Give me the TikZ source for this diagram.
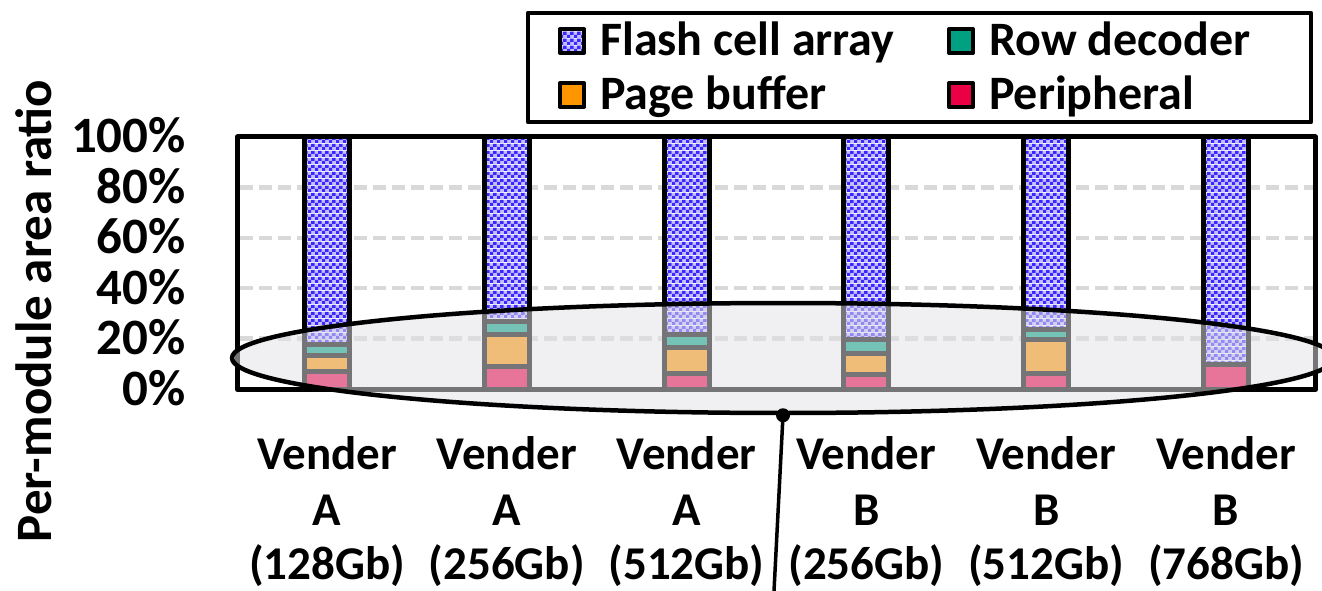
\documentclass[tikz,border=0pt]{standalone}
\usepackage{fontspec}
\setmainfont{Carlito}
\usetikzlibrary{patterns.meta,shapes.geometric}
\definecolor{cblue}{RGB}{60,40,255}
\definecolor{cbluelt}{RGB}{195,190,255}
\definecolor{cteal}{RGB}{0,160,130}
\definecolor{corange}{RGB}{255,150,0}
\definecolor{cpink}{RGB}{235,0,70}
\definecolor{cgrid}{RGB}{217,217,217}
\definecolor{cell}{RGB}{226,226,230}
\tikzdeclarepattern{name=chk, type=colored,
  bounding box={(0pt,0pt) and (7pt,7pt)}, tile size={(7pt,7pt)},
  code={\fill[cbluelt] (0pt,0pt) rectangle (7pt,7pt);
        \fill[cblue] (0pt,0pt) rectangle (3.5pt,3.5pt);
        \fill[cblue] (3.5pt,3.5pt) rectangle (7pt,7pt);}}
\tikzset{
  seg/.style={draw=black, line width=5pt},
  flash/.style={pattern=chk},
  grid/.style={cgrid, line width=4.5pt, dash pattern=on 13pt off 6pt},
  lab/.style={font=\fontsize{48}{58}\selectfont\bfseries, inner sep=0pt},
  tick/.style={font=\fontsize{51}{60}\selectfont\bfseries, inner sep=0pt, anchor=base east},
  cat/.style={font=\fontsize{47}{57}\selectfont\bfseries, inner sep=0pt, anchor=base},
  legsq/.style={draw=black, line width=4pt, minimum size=24pt, inner sep=0pt},
}
\newcommand{\mybar}[4]{%
  \draw[seg,fill=cpink] (#1-22.5,389) rectangle (#1+22.5,#2);
  \draw[seg,fill=corange] (#1-22.5,#2) rectangle (#1+22.5,#3);
  \draw[seg,fill=cteal] (#1-22.5,#3) rectangle (#1+22.5,#4);
  \draw[seg,flash] (#1-22.5,#4) rectangle (#1+22.5,137);}
\begin{document}
\begin{tikzpicture}[x=1pt,y=-1pt,line join=round]
\useasboundingbox (0,0) rectangle (1322,591);
% gridlines
\foreach \yy in {187.4,237.8,288.2,338.6}{\draw[grid] (240,\yy) -- (1314,\yy);}
% bars
\mybar{327}{371.6}{355.7}{344.6}
\mybar{506.8}{366.3}{334.3}{321.7}
\mybar{686.6}{373.9}{347.7}{334.3}
\mybar{866.4}{374.1}{353.0}{339.6}
\mybar{1046.2}{373.9}{339.6}{329.5}
\draw[seg,fill=cpink] (1226-22.5,389) rectangle (1226+22.5,364.3);
\draw[seg,flash] (1226-22.5,364.3) rectangle (1226+22.5,137);
% frame
\draw[line width=5pt] (237.5,137) rectangle (1315.5,389.5);
% ticks
\node[tick] (t100) at (186,153) {100\%};
\node[tick] (t80) at (186,203.4) {80\%};
\node[tick] (t60) at (186,253.8) {60\%};
\node[tick] (t40) at (186,304.2) {40\%};
\node[tick] (t20) at (186,354.6) {20\%};
\node[tick] (t0) at (186,405) {0\%};
% y label
\node[font=\fontsize{51}{60}\selectfont\bfseries, inner sep=0pt, rotate=90, anchor=base] (ylab) at (51,311) {Per-module area ratio};
% ellipse
\node[ellipse, draw=black, line width=4.5pt, fill=cell, fill opacity=0.52, draw opacity=1,
  minimum width=1102pt, minimum height=110pt, inner sep=0pt] (ell) at (783,358) {};
\node[circle, fill=black, inner sep=0pt, minimum size=14pt] (dot) at (ell.south) {};
\coordinate (tail) at (774,591);
\draw[line width=3.5pt] (dot.center) -- (tail);
% category labels
\foreach \cx/\v/\c [count=\i] in {327/A/128Gb, 506.8/A/256Gb, 686.6/A/512Gb, 866.4/B/256Gb, 1046.2/B/512Gb, 1226/B/768Gb}{
  \node[cat] (ven\i) at (\cx,469) {Vender};
  \node[cat] (vid\i) at (\cx,525) {\v};
  \node[cat] (cap\i) at (\cx,579) {(\c)};
}
% legend
\node[draw=black, line width=4.5pt, minimum width=783pt, minimum height=109pt, inner sep=0pt] (leg) at (919.5,67.5) {};
\node[legsq, flash] (k1) at (572,41) {};
\node[legsq, fill=cteal] (k2) at (961,41) {};
\node[legsq, fill=corange] (k3) at (572,95) {};
\node[legsq, fill=cpink] (k4) at (961,95) {};
\node[lab, anchor=base west] (l1) at (600,56) {Flash cell array};
\node[lab, anchor=base west] (l2) at (989,56) {Row decoder};
\node[lab, anchor=base west] (l3) at (600,110) {Page buffer};
\node[lab, anchor=base west] (l4) at (989,110) {Peripheral};
\end{tikzpicture}
\end{document}
